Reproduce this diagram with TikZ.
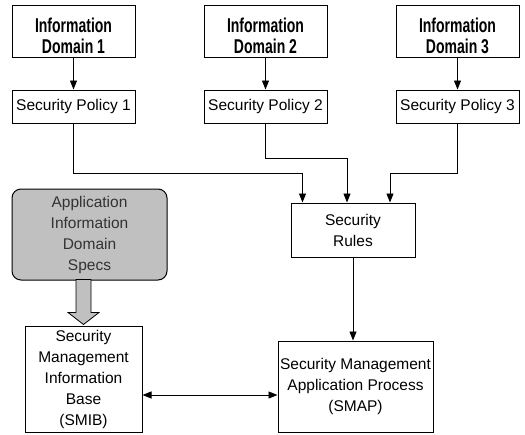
\documentclass[tikz,border=0pt]{standalone}
\usepackage{fontspec}
\setmainfont{Liberation Sans}
\newfontfamily\domainfont[FakeStretch=0.7]{Liberation Sans}
\usetikzlibrary{arrows.meta,calc}
\definecolor{specgray}{HTML}{C0C0C0}
\definecolor{spectext}{HTML}{333333}
\tikzset{
  base/.style={draw, line width=1pt, inner sep=0pt, align=center,
    font=\fontsize{15.5}{21}\selectfont},
  domainbox/.style={draw, line width=1pt, minimum width=123pt, minimum height=52pt,
    label={[yshift=-5pt, align=center,
      font=\domainfont\fontsize{20}{21.5}\selectfont\bfseries]center:{#1}}},
  policybox/.style={base, minimum width=123pt, minimum height=33pt},
  specbox/.style={base, rounded corners=9pt, fill=specgray, text=spectext},
  arr/.style={line width=0.9pt, -{Triangle[width=7pt,length=9pt]}},
  dblarr/.style={line width=0.9pt, {Triangle[width=7pt,length=9pt]}-{Triangle[width=7pt,length=9pt]}},
}
\begin{document}
\begin{tikzpicture}[x=1pt,y=-1pt]
\useasboundingbox (0,0) rectangle (525,434);

% information domains
\node[domainbox={Information\\Domain 1}] (id1) at (73.5,31) {};
\node[domainbox={Information\\Domain 2}] (id2) at (265.5,31) {};
\node[domainbox={Information\\Domain 3}] (id3) at (457.5,31) {};

% security policies
\node[policybox] (sp1) at (73.5,106.5) {Security Policy 1};
\node[policybox] (sp2) at (265.5,106.5) {Security Policy 2};
\node[policybox] (sp3) at (457.5,106.5) {Security Policy 3};

% rules, management process and base
\node[base, minimum width=124pt, minimum height=54pt] (sr) at (353,230) {Security\\Rules};
\node[base, minimum width=155pt, minimum height=91pt] (smap) at (355.5,386.5)
  {Security Management\\Application Process\\(SMAP)};
\node[base, minimum width=117pt, minimum height=106pt] (smib) at (83.5,379)
  {Security\\Management\\Information\\Base\\(SMIB)};
\node[specbox, minimum width=155pt, minimum height=91pt] (specs) at (89.5,234.5)
  {Application\\Information\\Domain\\Specs};

% domain -> policy
\draw[arr] (id1) -- (sp1);
\draw[arr] (id2) -- (sp2);
\draw[arr] (id3) -- (sp3);

% policies -> rules
\draw[arr] (sp1.south) -- (sp1.south |- 0,173) -| ([xshift=12pt]sr.north west);
\draw[arr] (sp2.south) -- (sp2.south |- 0,158) -| ([xshift=-6pt]sr.north);
\draw[arr] (sp3.south) -- (sp3.south |- 0,173) -| ([xshift=37pt]sr.north);

% rules -> process
\draw[arr] (sr.south) -- (sr.south |- smap.north);

% base <-> process
\draw[dblarr] ([yshift=-16pt]smib.east) -- ([yshift=-16pt]smib.east -| smap.west);

% wide arrow from the specs into the base
\coordinate (tip) at ([yshift=1pt]smib.north);
\draw[fill=specgray, line width=0.8pt] (tip) -- ++(-15.5,-12) -- ++(8,0) -- ++(0,-33)
  -- ++(15,0) -- ++(0,33) -- ++(8,0) -- cycle;
\end{tikzpicture}
\end{document}
